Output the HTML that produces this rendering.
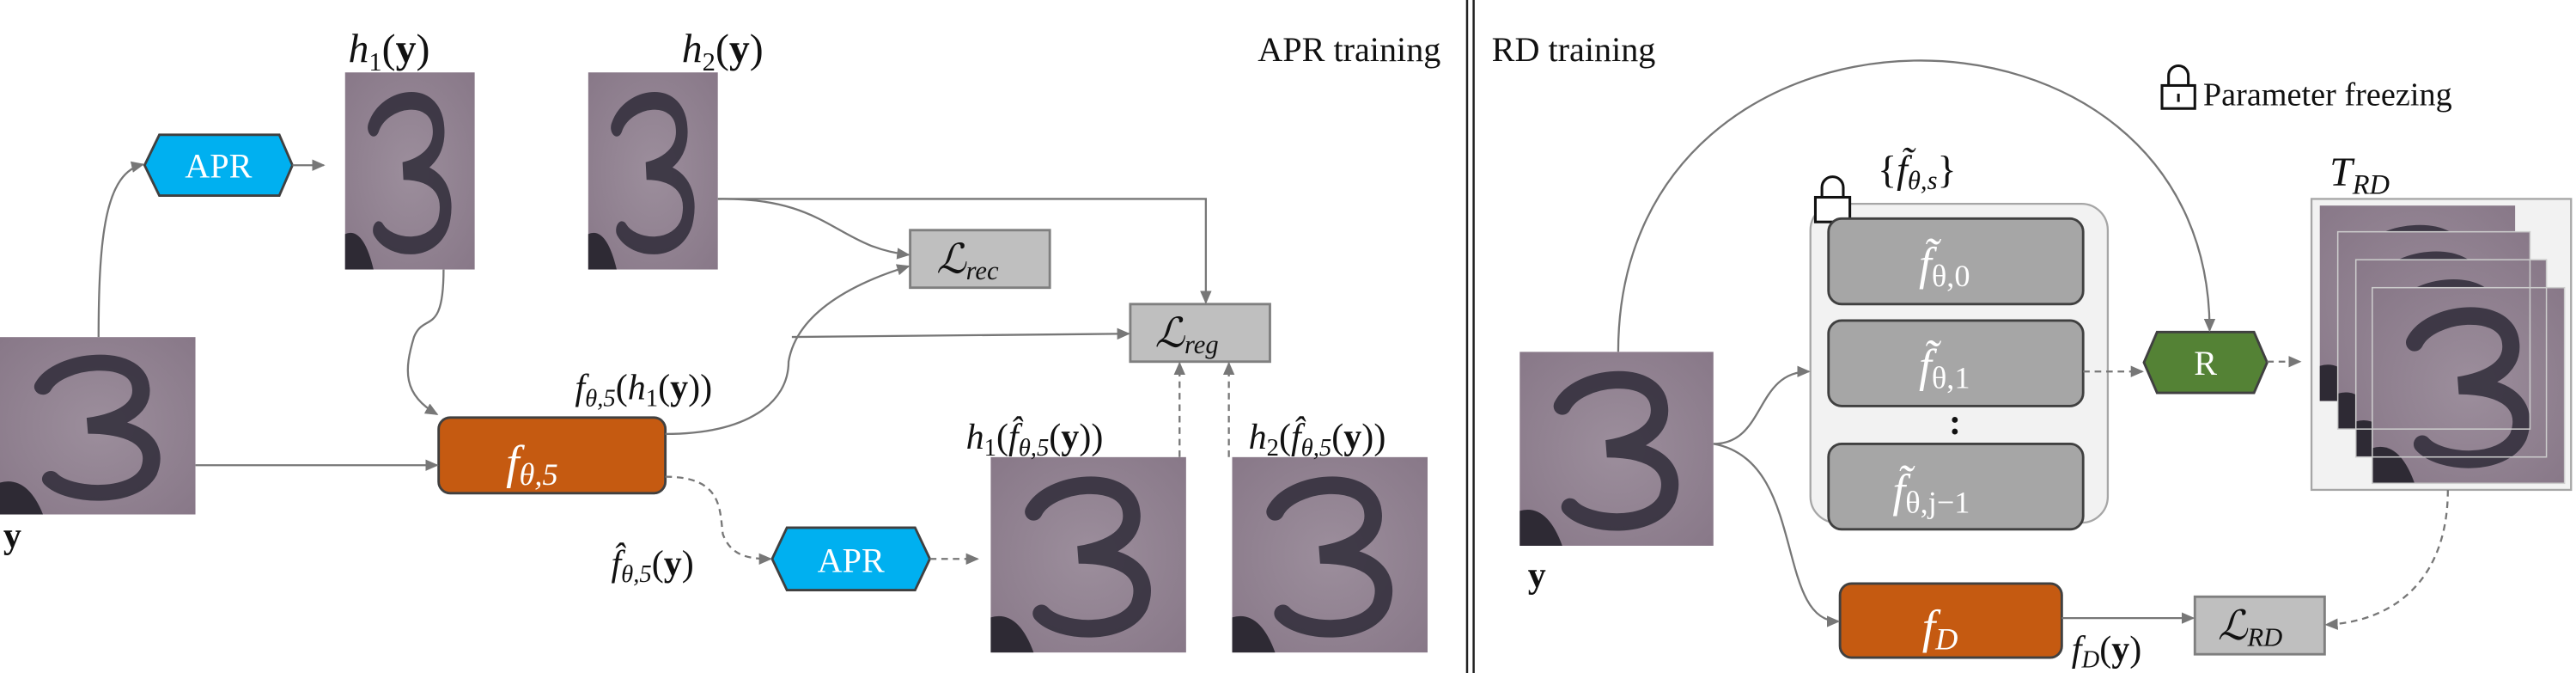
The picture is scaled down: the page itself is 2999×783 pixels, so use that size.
<!DOCTYPE html>
<html><head><meta charset="utf-8"><style>
html,body{margin:0;padding:0;background:#fff;width:2999px;height:783px;overflow:hidden}
svg{display:block}
.m{font-family:"Liberation Serif",serif;font-style:italic;fill:#111}
.w{font-family:"Liberation Serif",serif;fill:#fff}
.t{font-family:"Liberation Serif",serif;fill:#111}
</style></head><body>
<svg width="2999" height="783" viewBox="0 0 1568 409.4" preserveAspectRatio="none">
<defs>
<marker id="ar" markerWidth="8" markerHeight="8" refX="7" refY="4" orient="auto" markerUnits="userSpaceOnUse"><path d="M0,0.5 L8,4 L0,7.5z" fill="#777"/></marker>
<radialGradient id="img" cx="50%" cy="50%" r="70%"><stop offset="0" stop-color="#9c8e9c"/><stop offset="1" stop-color="#887888"/></radialGradient>
<g id="three"><rect width="100" height="100" fill="url(#img)"/><path d="M0,82 Q14,78 22,100 L0,100z" fill="#2e2a34"/><path d="M22,28 C30,12 70,8 72,28 C74,42 58,48 45,50 C70,50 82,60 76,76 C68,92 35,90 26,80" fill="none" stroke="#2f2b38" stroke-width="9" stroke-linecap="round" opacity="0.85"/></g>
</defs>

<g>
<text class="t" x="877" y="37" font-size="21" text-anchor="end">APR training</text>

<svg x="0" y="205" width="119" height="108" viewBox="0 0 100 100" preserveAspectRatio="none"><use href="#three"/></svg>
<text class="t" x="2" y="333" font-size="22" font-weight="bold">y</text>

<polygon points="97,82 170,82 178,100.5 170,119 97,119 88,100.5" fill="#00b0f0" stroke="#404040" stroke-width="1.5"/>
<text class="w" x="133" y="108" font-size="21" text-anchor="middle">APR</text>

<svg x="210" y="44" width="79" height="120" viewBox="0 0 100 100" preserveAspectRatio="none"><use href="#three"/></svg>
<svg x="358" y="44" width="79" height="120" viewBox="0 0 100 100" preserveAspectRatio="none"><use href="#three"/></svg>
<text class="m" x="212" y="38" font-size="25">h<tspan font-size="16" font-style="normal" dy="5">1</tspan><tspan font-style="normal" dy="-5">(</tspan><tspan font-weight="bold" font-style="normal">y</tspan><tspan font-style="normal">)</tspan></text>
<text class="m" x="415" y="38" font-size="25">h<tspan font-size="16" font-style="normal" dy="5">2</tspan><tspan font-style="normal" dy="-5">(</tspan><tspan font-weight="bold" font-style="normal">y</tspan><tspan font-style="normal">)</tspan></text>

<rect x="554" y="140" width="85" height="35" fill="#bfbfbf" stroke="#7f7f7f" stroke-width="1.5"/>
<text class="m" x="570" y="166" font-size="25">ℒ<tspan font-size="16" dy="4">rec</tspan></text>
<rect x="688" y="185" width="85" height="35" fill="#bfbfbf" stroke="#7f7f7f" stroke-width="1.5"/>
<text class="m" x="703" y="211" font-size="25">ℒ<tspan font-size="16" dy="4">reg</tspan></text>

<rect x="267" y="254" width="138" height="46" rx="7" fill="#c55a11" stroke="#404040" stroke-width="1.5"/>
<text class="w" x="308" y="291" font-size="29" font-style="italic">f<tspan font-size="19" dy="4">θ,5</tspan></text>

<text class="m" x="350" y="243" font-size="22">f<tspan font-size="15" dy="4">θ,5</tspan><tspan font-style="normal" dy="-4">(</tspan>h<tspan font-size="15" font-style="normal" dy="4">1</tspan><tspan font-style="normal" dy="-4">(</tspan><tspan font-weight="bold" font-style="normal">y</tspan><tspan font-style="normal">))</tspan></text>
<text class="m" x="372" y="350" font-size="22">f̂<tspan font-size="15" dy="4">θ,5</tspan><tspan font-style="normal" dy="-4">(</tspan><tspan font-weight="bold" font-style="normal">y</tspan><tspan font-style="normal">)</tspan></text>

<polygon points="479,321 557,321 566,340 557,359 479,359 470,340" fill="#00b0f0" stroke="#404040" stroke-width="1.5"/>
<text class="w" x="518" y="348" font-size="21" text-anchor="middle">APR</text>

<svg x="603" y="278" width="119" height="119" viewBox="0 0 100 100" preserveAspectRatio="none"><use href="#three"/></svg>
<svg x="750" y="278" width="119" height="119" viewBox="0 0 100 100" preserveAspectRatio="none"><use href="#three"/></svg>
<text class="m" x="588" y="273" font-size="22">h<tspan font-size="15" font-style="normal" dy="4">1</tspan><tspan font-style="normal" dy="-4">(</tspan>f̂<tspan font-size="15" dy="4">θ,5</tspan><tspan font-style="normal" dy="-4">(</tspan><tspan font-weight="bold" font-style="normal">y</tspan><tspan font-style="normal">))</tspan></text>
<text class="m" x="760" y="273" font-size="22">h<tspan font-size="15" font-style="normal" dy="4">2</tspan><tspan font-style="normal" dy="-4">(</tspan>f̂<tspan font-size="15" dy="4">θ,5</tspan><tspan font-style="normal" dy="-4">(</tspan><tspan font-weight="bold" font-style="normal">y</tspan><tspan font-style="normal">))</tspan></text>

<g fill="none" stroke="#777" stroke-width="1.2">
<path d="M60,205 C60,140 65,105 87,100" marker-end="url(#ar)"/>
<path d="M178,100.5 L197,100.5" marker-end="url(#ar)"/>
<path d="M270,164 C270,205 258,190 252,205 C246,225 245,240 266,252" marker-end="url(#ar)"/>
<path d="M119,283 L266,283" marker-end="url(#ar)"/>
<path d="M437,121 L734,121 L734,184" marker-end="url(#ar)"/>
<path d="M437,121 C505,120 508,150 553,155" marker-end="url(#ar)"/>
<path d="M405,264 C455,264 480,245 480,220 C485,190 520,172 553,162" marker-end="url(#ar)"/>
<path d="M482,205 L687,203" marker-end="url(#ar)"/>
<path d="M405,290 C440,290 438,310 440,325 C445,338 455,340 469,340" stroke-dasharray="4,3" marker-end="url(#ar)"/>
<path d="M566,340 L595,340" stroke-dasharray="4,3" marker-end="url(#ar)"/>
<path d="M718,278 L718,221" stroke-dasharray="4,3" marker-end="url(#ar)"/>
<path d="M748,278 L748,221" stroke-dasharray="4,3" marker-end="url(#ar)"/>
</g>
</g>

<line x1="893" y1="0" x2="893" y2="409.4" stroke="#222" stroke-width="1.3"/>
<line x1="897" y1="0" x2="897" y2="409.4" stroke="#222" stroke-width="1.3"/>

<g>
<text class="t" x="908" y="37" font-size="21">RD training</text>
<g fill="none" stroke="#111" stroke-width="1.6">
<path d="M1320,52 V46 a6,6 0 0 1 12,0 V52"/><rect x="1316" y="52" width="20" height="14" fill="#fff"/><path d="M1326,57 V62"/>
</g>
<text class="t" x="1341" y="64" font-size="20">Parameter freezing</text>

<svg x="925" y="214" width="118" height="118" viewBox="0 0 100 100" preserveAspectRatio="none"><use href="#three"/></svg>
<text class="t" x="930" y="357" font-size="22" font-weight="bold">y</text>

<rect x="1102" y="124" width="181" height="194" rx="16" fill="#f2f2f2" stroke="#a6a6a6" stroke-width="1.2"/>
<g fill="none" stroke="#111" stroke-width="1.6"><path d="M1109,120 V114 a6.5,6.5 0 0 1 13,0 V120"/><rect x="1105" y="120" width="21" height="15" fill="#fff"/></g>
<text class="m" x="1143" y="111" font-size="24"><tspan font-style="normal">{</tspan>f̃<tspan font-size="16" dy="4">θ,s</tspan><tspan font-style="normal" dy="-4">}</tspan></text>

<rect x="1113" y="133" width="155" height="52" rx="8" fill="#a6a6a6" stroke="#404040" stroke-width="1.5"/>
<text class="w" x="1168" y="170" font-size="28" font-style="italic">f̃<tspan font-size="19" font-style="normal" dy="4">θ,0</tspan></text>
<rect x="1113" y="195" width="155" height="52" rx="8" fill="#a6a6a6" stroke="#404040" stroke-width="1.5"/>
<text class="w" x="1168" y="232" font-size="28" font-style="italic">f̃<tspan font-size="19" font-style="normal" dy="4">θ,1</tspan></text>
<text class="t" x="1190" y="264" font-size="22" font-weight="bold" text-anchor="middle">:</text>
<rect x="1113" y="270" width="155" height="52" rx="8" fill="#a6a6a6" stroke="#404040" stroke-width="1.5"/>
<text class="w" x="1152" y="308" font-size="28" font-style="italic">f̃<tspan font-size="19" font-style="normal" dy="4">θ,j−1</tspan></text>

<polygon points="1313,202 1372,202 1380,220.5 1372,239 1313,239 1305,220.5" fill="#548235" stroke="#404040" stroke-width="1.5"/>
<text class="w" x="1342.5" y="228" font-size="21" text-anchor="middle">R</text>

<text class="m" x="1418" y="113" font-size="25">T<tspan font-size="17" dy="5">RD</tspan></text>
<rect x="1407" y="121" width="158" height="177" fill="#f2f2f2" stroke="#a6a6a6" stroke-width="1.2"/>
<svg x="1412" y="125" width="119" height="119" viewBox="0 0 100 100" preserveAspectRatio="none"><use href="#three"/></svg>
<svg x="1423" y="141" width="117" height="120" viewBox="0 0 100 100" preserveAspectRatio="none"><use href="#three"/></svg>
<svg x="1434" y="158" width="116" height="120" viewBox="0 0 100 100" preserveAspectRatio="none"><use href="#three"/></svg>
<svg x="1444" y="175" width="117" height="119" viewBox="0 0 100 100" preserveAspectRatio="none"><use href="#three"/></svg>
<g fill="none" stroke="#ccc" stroke-width="0.8"><rect x="1423" y="141" width="117" height="120"/><rect x="1434" y="158" width="116" height="120"/><rect x="1444" y="175" width="117" height="119"/></g>

<rect x="1120" y="355" width="135" height="45" rx="7" fill="#c55a11" stroke="#404040" stroke-width="1.5"/>
<text class="w" x="1170" y="391" font-size="29" font-style="italic">f<tspan font-size="19" dy="4">D</tspan></text>
<rect x="1336" y="363" width="79" height="35" fill="#bfbfbf" stroke="#7f7f7f" stroke-width="1.5"/>
<text class="m" x="1350" y="389" font-size="25">ℒ<tspan font-size="16" dy="4">RD</tspan></text>
<text class="m" x="1261" y="402" font-size="22">f<tspan font-size="15" dy="4">D</tspan><tspan font-style="normal" dy="-4">(</tspan><tspan font-weight="bold" font-style="normal">y</tspan><tspan font-style="normal">)</tspan></text>

<g fill="none" stroke="#777" stroke-width="1.2">
<path d="M985,214 C985,-20 1345,-20 1345,201" marker-end="url(#ar)"/>
<path d="M1043,270 C1075,270 1068,226 1101,226" marker-end="url(#ar)"/>
<path d="M1043,270 C1100,280 1080,378 1119,378" marker-end="url(#ar)"/>
<path d="M1268,226 L1304,226" stroke-dasharray="4,3" marker-end="url(#ar)"/>
<path d="M1380,220 L1400,220" stroke-dasharray="4,3" marker-end="url(#ar)"/>
<path d="M1490,298 C1490,350 1460,378 1416,380" stroke-dasharray="4,3" marker-end="url(#ar)"/>
<path d="M1255,376 L1335,376" marker-end="url(#ar)"/>
</g>
</g>
</svg>
</body></html>
